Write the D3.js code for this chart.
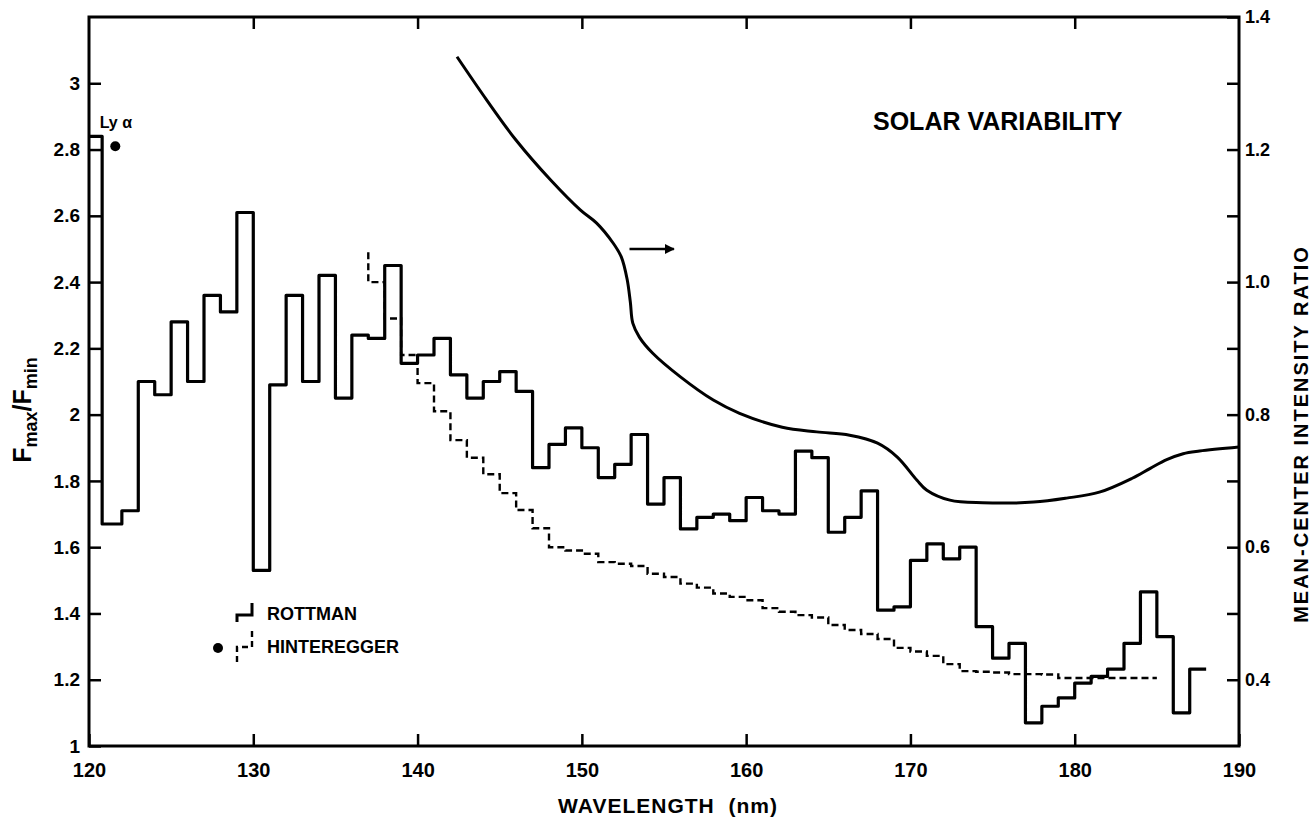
<!DOCTYPE html>
<html>
<head>
<meta charset="utf-8">
<script src="https://cdn.jsdelivr.net/npm/d3@7"></script>
<style>
  body { margin: 0; background: #fff; }
  svg { font-family: "Liberation Sans", Arial, sans-serif; font-weight: bold; }
  .axis text { fill: #000; }
  .axis line { stroke: #000; stroke-width: 2.5px; }
  .x-axis text { font-size: 20px; }
  .y-left text { font-size: 19px; }
  .y-right text { font-size: 18px; }
</style>
</head>
<body>
<div id="chart"></div>
<script>
// Rottman bins (start wavelength, Fmax/Fmin), step plot
const rottman_nm = [120, 120.8, 122, 123, 124, 125, 126, 127, 128, 129, 130, 131, 132, 133, 134, 135, 136, 137, 138, 139,
  140, 141, 142, 143, 144, 145, 146, 147, 148, 149, 150, 151, 152, 153, 154, 155, 156, 157, 158, 159,
  160, 161, 162, 163, 164, 165, 166, 167, 168, 169, 170, 171, 172, 173, 174, 175, 176, 177, 178, 179,
  180, 181, 182, 183, 184, 185, 186, 187];
const rottman_ratio = [2.84, 1.67, 1.71, 2.10, 2.06, 2.28, 2.10, 2.36, 2.31, 2.61, 1.53, 2.09, 2.36, 2.10, 2.42, 2.05, 2.24, 2.23, 2.45, 2.155,
  2.18, 2.23, 2.12, 2.05, 2.10, 2.13, 2.07, 1.84, 1.91, 1.96, 1.90, 1.81, 1.85, 1.94, 1.73, 1.81, 1.655, 1.69, 1.70, 1.68,
  1.75, 1.71, 1.70, 1.89, 1.87, 1.645, 1.69, 1.77, 1.41, 1.42, 1.56, 1.61, 1.565, 1.60, 1.36, 1.265, 1.31, 1.07, 1.12, 1.145,
  1.19, 1.21, 1.232, 1.31, 1.465, 1.33, 1.10, 1.232];
const rottman_end = 188;

// Hinteregger (dashed step)
const hint_nm = [137, 137, 138, 139, 140, 141, 142, 143, 144, 145, 146, 147, 148, 149, 150, 151, 152, 153, 154, 155,
  156, 157, 158, 159, 160, 161, 162, 163, 164, 165, 166, 167, 168, 169, 170, 171, 172, 173, 174, 175,
  176, 177, 178, 179];
const hint_ratio = [2.49, 2.40, 2.29, 2.18, 2.095, 2.01, 1.923, 1.87, 1.82, 1.763, 1.712, 1.657, 1.60, 1.59, 1.58, 1.555, 1.55, 1.543, 1.52, 1.51,
  1.49, 1.478, 1.46, 1.45, 1.44, 1.416, 1.405, 1.395, 1.388, 1.365, 1.35, 1.338, 1.323, 1.296, 1.285, 1.272, 1.247, 1.226, 1.224, 1.222,
  1.217, 1.217, 1.216, 1.205];
const hint_end = 185;

// Ly alpha point
const lya_nm = [121.6];
const lya_ratio = [2.81];

// mean-center intensity ratio (right axis)
const curve_nm = [142.4, 144.2, 146.0, 148.1, 149.9, 150.9, 151.9, 152.4, 152.75, 152.95, 153.1, 153.5, 154.3, 156.0, 158.0, 159.6, 162.2,
  164.3, 166.3, 168.0, 169.2, 170.4, 171.0, 172.4, 174.4, 177.5, 179.5, 181.5, 183.5, 184.6, 185.6, 186.6, 187.6, 190];
const curve_ratio = [1.34, 1.275, 1.214, 1.154, 1.109, 1.089, 1.059, 1.038, 1.005, 0.97, 0.938, 0.917, 0.893, 0.857, 0.822, 0.802, 0.781,
  0.774, 0.769, 0.757, 0.736, 0.701, 0.686, 0.671, 0.667, 0.668, 0.674, 0.683, 0.704, 0.719, 0.732, 0.741, 0.745, 0.751];

const x_ticks = [120, 130, 140, 150, 160, 170, 180, 190];
const left_ticks = [1, 1.2, 1.4, 1.6, 1.8, 2, 2.2, 2.4, 2.6, 2.8, 3];
const right_ticks = [0.4, 0.6, 0.8, 1.0, 1.2, 1.4];
const right_minor = [0.5, 0.7, 0.9, 1.1, 1.3];

const margin = { left: 89, right: 77, top: 17, bottom: 74 };
const width = 1316 - margin.left - margin.right;
const height = 820 - margin.top - margin.bottom;

const x_scale = d3.scaleLinear().domain([120, 190]).range([0, width]);
const y_left = d3.scaleLinear().domain([1, 3.2]).range([height, 0]);
const y_right = d3.scaleLinear().domain([0.3, 1.4]).range([height, 0]);

const root = d3.select('#chart')
  .append('svg')
    .attr('width', 1316)
    .attr('height', 820);
const svg = root.append('g')
    .attr('transform', 'translate(' + margin.left + ',' + margin.top + ')');

root.append('defs').append('marker')
    .attr('id', 'head')
    .attr('viewBox', '0 0 10 10')
    .attr('refX', 9).attr('refY', 5)
    .attr('markerWidth', 4).attr('markerHeight', 4)
    .attr('orient', 'auto')
  .append('path')
    .attr('d', 'M0,0L10,5L0,10Z')
    .attr('fill', '#000');

const no_domain = g => g.select('.domain').remove();
const fmt = d3.format('~g');

// Axes (ticks point inward)
svg.append('g')
    .attr('class', 'axis x-axis')
    .attr('transform', `translate(0,${height})`)
    .call(d3.axisBottom(x_scale).tickValues(x_ticks).tickSize(-12).tickPadding(17).tickFormat(fmt))
    .call(no_domain);
svg.append('g')
    .attr('class', 'axis')
    .call(d3.axisTop(x_scale).tickValues(x_ticks.slice(1, -1)).tickSize(-12).tickFormat(''))
    .call(no_domain);
svg.append('g')
    .attr('class', 'axis y-left')
    .call(d3.axisLeft(y_left).tickValues(left_ticks).tickSize(-12).tickPadding(9).tickFormat(fmt))
    .call(no_domain);
svg.append('g')
    .attr('class', 'axis y-right')
    .attr('transform', `translate(${width},0)`)
    .call(d3.axisRight(y_right).tickValues(right_ticks).tickSize(-12).tickPadding(6).tickFormat(d3.format('.1f')))
    .call(no_domain);
svg.append('g')
    .attr('class', 'axis')
    .attr('transform', `translate(${width},0)`)
    .call(d3.axisRight(y_right).tickValues(right_minor).tickSize(-12).tickFormat(''))
    .call(no_domain);

svg.append('rect')
    .attr('width', width)
    .attr('height', height)
    .attr('fill', 'none')
    .attr('stroke', '#000')
    .attr('stroke-width', 3);

// Step lines
const step_line = (scale) => d3.line()
    .x(d => x_scale(d[0]))
    .y(d => scale(d[1]))
    .curve(d3.curveStepAfter);

let rottman = rottman_nm.map((d, i) => [d, rottman_ratio[i]]);
rottman.push([rottman_end, rottman_ratio[rottman_ratio.length - 1]]);
let hint = hint_nm.map((d, i) => [d, hint_ratio[i]]);
hint.push([hint_end, hint_ratio[hint_ratio.length - 1]]);

svg.append('path')
    .datum(hint)
    .attr('d', step_line(y_left))
    .attr('fill', 'none')
    .attr('stroke', '#000')
    .attr('stroke-width', 2.4)
    .attr('stroke-dasharray', '7,4');

svg.append('path')
    .datum(rottman)
    .attr('d', step_line(y_left))
    .attr('fill', 'none')
    .attr('stroke', '#000')
    .attr('stroke-width', 3.2)
    .attr('stroke-linejoin', 'round');

svg.selectAll('.lya')
    .data(lya_nm)
  .join('circle')
    .attr('class', 'lya')
    .attr('cx', d => x_scale(d))
    .attr('cy', (d, i) => y_left(lya_ratio[i]))
    .attr('r', 5)
    .attr('fill', '#000');

svg.append('text')
    .attr('x', x_scale(120.65))
    .attr('y', 111)
    .attr('font-size', 16)
    .text('Ly α');

// Mean-center intensity ratio curve
svg.append('path')
    .datum(curve_nm.map((d, i) => [d, curve_ratio[i]]))
    .attr('d', d3.line()
      .x(d => x_scale(d[0]))
      .y(d => y_right(d[1]))
      .curve(d3.curveCatmullRom.alpha(0.5)))
    .attr('fill', 'none')
    .attr('stroke', '#000')
    .attr('stroke-width', 3);

svg.append('line')
    .attr('x1', x_scale(152.9)).attr('x2', x_scale(155.6))
    .attr('y1', y_right(1.05)).attr('y2', y_right(1.05))
    .attr('stroke', '#000')
    .attr('stroke-width', 2.5)
    .attr('marker-end', 'url(#head)');

// Title
svg.append('text')
    .attr('x', 784)
    .attr('y', 113)
    .attr('font-size', 25)
    .text('SOLAR VARIABILITY');

// Legend
const legend = svg.append('g').attr('transform', 'translate(148,586)');
legend.append('path')
    .attr('d', 'M0,19V12H15V0')
    .attr('fill', 'none').attr('stroke', '#000').attr('stroke-width', 3);
legend.append('text').attr('x', 30).attr('y', 17).attr('font-size', 18).text('ROTTMAN');
legend.append('circle').attr('cx', -19).attr('cy', 45).attr('r', 5).attr('fill', '#000');
legend.append('path')
    .attr('d', 'M0,59V44H15V26')
    .attr('fill', 'none').attr('stroke', '#000').attr('stroke-width', 2.4)
    .attr('stroke-dasharray', '6,4');
legend.append('text').attr('x', 30).attr('y', 50).attr('font-size', 18).text('HINTEREGGER');

// Axis titles
root.append('text')
    .attr('x', 668)
    .attr('y', 813)
    .attr('text-anchor', 'middle')
    .attr('font-size', 21)
    .attr('letter-spacing', 1)
    .attr('xml:space', 'preserve')
    .text('WAVELENGTH  (nm)');

const left_title = root.append('text')
    .attr('transform', 'translate(31,410) rotate(-90)')
    .attr('text-anchor', 'middle')
    .attr('font-size', 25);
left_title.append('tspan').text('F');
left_title.append('tspan').attr('font-size', 18).attr('dy', 6).text('max');
left_title.append('tspan').attr('dy', -6).text('/');
left_title.append('tspan').text('F');
left_title.append('tspan').attr('font-size', 18).attr('dy', 6).text('min');

root.append('text')
    .attr('transform', 'translate(1308,434) rotate(-90)')
    .attr('text-anchor', 'middle')
    .attr('font-size', 20)
    .attr('letter-spacing', 2)
    .text('MEAN-CENTER INTENSITY RATIO');
</script>
</body>
</html>
